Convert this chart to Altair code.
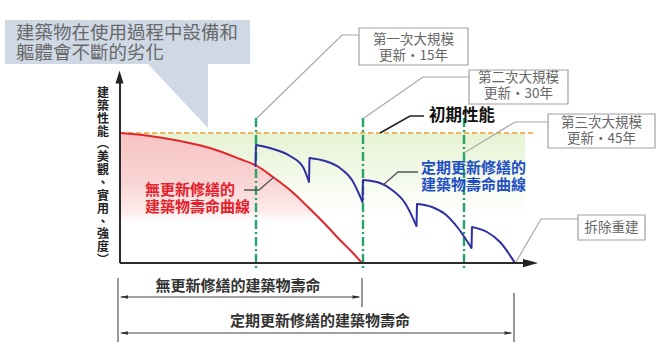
import altair as alt
import pandas as pd

W, H = 664, 355
FONT = "Noto Sans CJK TC"

# ---------------- data (diagram space: x right, y down) ----------------
red_x = [120, 150, 180, 210, 240, 257, 273, 290, 307, 325, 340, 352, 362]
red_y = [133, 136, 141, 148, 159, 166, 177, 190, 206, 224, 240, 252, 263]

# blue sawtooth curve: one list per decay arc (peak -> trough)
blue_arcs_x = [
    [256, 273, 290, 303, 309],
    [309.5, 325, 340, 352, 362.5],
    [363, 380, 392, 405, 416.5],
    [417, 432, 445, 458, 471.5],
    [472, 487, 500, 515],
]
blue_arcs_y = [
    [145, 149, 156, 167, 182],
    [158, 161, 168, 180, 202],
    [180, 183, 190, 203, 226],
    [204, 207, 214, 228, 248],
    [227, 232, 242, 263],
]
blue_start_y = 166  # where the first renewal lifts off the red curve

initial_level = 133
renewal_x = [256, 363, 464]  # 15, 30, 45 years
renewal_labels = [["第一次大規模", "更新・15年"], ["第二次大規模", "更新・30年"], ["第三次大規模", "更新・45年"]]

ylabel_chars = list("建築性能") + ["︵"] + list("美觀") + ["、"] + list("實用") + ["、"] + list("強度") + ["︶"]

callout_lines = ["建築物在使用過程中設備和", "軀體會不斷的劣化"]
red_label = ["無更新修繕的", "建築物壽命曲線"]
blue_label = ["定期更新修繕的", "建築物壽命曲線"]
span_labels = ["無更新修繕的建築物壽命", "定期更新修繕的建築物壽命"]

# ---------------- helpers ----------------
xs = alt.Scale(domain=[0, W], nice=False, zero=False)
ys = alt.Scale(domain=[H, 0], nice=False, zero=False)
X = alt.X("x:Q", scale=xs, axis=None)
Y = alt.Y("y:Q", scale=ys, axis=None)


def vgrad(stops):
    return alt.Gradient(gradient="linear", x1=0, x2=0, y1=0, y2=1,
                        stops=[alt.GradientStop(color=c, offset=o) for o, c in stops])


def rects(rows, **kw):
    df = pd.DataFrame(rows, columns=["x", "y", "x2", "y2"])
    return alt.Chart(df).mark_rect(**kw).encode(x=X, y=Y, x2="x2:Q", y2="y2:Q")


def polylines(lines, **kw):
    rows = []
    for i, pts in enumerate(lines):
        for j, (px, py) in enumerate(pts):
            rows.append({"id": i, "o": j, "x": px, "y": py})
    return alt.Chart(pd.DataFrame(rows)).mark_line(**kw).encode(
        x=X, y=Y, detail="id:N", order="o:Q")


def texts(rows, size, color, weight="normal", align="center"):
    df = pd.DataFrame(rows, columns=["x", "y", "t"])
    return alt.Chart(df).mark_text(font=FONT, fontSize=size, color=color, fontWeight=weight,
                                   align=align, baseline="middle").encode(x=X, y=Y, text="t:N")


def heads(rows, path, size, color="#222"):
    df = pd.DataFrame(rows, columns=["x", "y"])
    return alt.Chart(df).mark_point(shape=path, size=size, filled=True, color=color,
                                    opacity=1, strokeWidth=0).encode(x=X, y=Y)


# ---------------- layers ----------------
# callout bubble (top-left)
bubble_box = rects([(5, 20, 250, 64)], color="#cfd9e6")
bubble_tail = alt.Chart(pd.DataFrame({"x": [148, 208], "y": [64, 64], "y0": [64, 128]})).mark_area(
    color="#cfd9e6").encode(x=X, y=Y, y2="y0:Q")
bubble_text = texts([(16, 33, callout_lines[0]), (16, 53, callout_lines[1])], 18.5, "#686868", align="left")

# background fills
green_fill = rects([(120, initial_level, 525, 215)],
                   fill=vgrad([(0, "#e5f3d2"), (0.45, "#f1f8e6"), (1, "#ffffff")]))
red_df = pd.DataFrame({"x": red_x, "y": red_y, "y0": [263] * len(red_x)})
red_fill = alt.Chart(red_df).mark_area(
    interpolate="monotone", opacity=1,
    fill=vgrad([(0, "#f7c3c3"), (0.35, "#f9d2d2"), (0.6, "#fdeaea"), (0.68, "#ffffff"), (1, "#ffffff")])
).encode(x=X, y=Y, y2="y0:Q")

blue_rows = []
o = 0
blue_rows.append({"arc": 0, "o": o, "x": blue_arcs_x[0][0] - 0.5, "y": blue_start_y})
for a, (axs, ays) in enumerate(zip(blue_arcs_x, blue_arcs_y)):
    for px, py in zip(axs, ays):
        o += 1
        blue_rows.append({"arc": a, "o": o, "x": px, "y": py})
blue_df = pd.DataFrame(blue_rows)
blue_df["y0"] = 263
blue_fill = alt.Chart(blue_df).mark_area(
    interpolate="linear", opacity=1,
    fill=vgrad([(0, "#d6def5"), (0.6, "#e0e6f7"), (0.78, "#ebeefa"), (0.82, "#ffffff"), (1, "#ffffff")])
).encode(x=X, y=Y, y2="y0:Q", order="o:Q")

# initial performance dashed line
init_line = polylines([[(120, initial_level), (533, initial_level)]],
                      color="#f0a035", strokeWidth=1.6, strokeDash=[5, 3])

# renewal vertical dash-dot lines
green_lines = polylines([[(gx, 118), (gx, 270)] for gx in renewal_x],
                        color="#22a565", strokeWidth=2.4, strokeDash=[9, 3, 2, 3])

# curves
red_curve = alt.Chart(red_df).mark_line(color="#e3262b", strokeWidth=2, interpolate="monotone").encode(x=X, y=Y)
blue_arcs = alt.Chart(blue_df[blue_df["o"] > 0]).mark_line(
    color="#2f2fa3", strokeWidth=2, interpolate="monotone").encode(x=X, y=Y, detail="arc:N", order="o:Q")
# vertical renewal jumps: from each trough (or red curve) up to the next peak
jumps = [[(blue_arcs_x[0][0] - 0.5, blue_start_y), (blue_arcs_x[0][0], blue_arcs_y[0][0])]]
for a in range(len(blue_arcs_x) - 1):
    jumps.append([(blue_arcs_x[a][-1], blue_arcs_y[a][-1]), (blue_arcs_x[a + 1][0], blue_arcs_y[a + 1][0])])
blue_jumps = polylines(jumps, color="#2f2fa3", strokeWidth=2, strokeCap="round")

# axes
axes = polylines([[(120, 263), (120, 80)], [(120, 263), (526, 263)]], color="#2b2b2b", strokeWidth=2)
yhead = heads([(119.5, 77)], "M0,-1L0.62,1L-0.62,1Z", 169)
xhead = heads([(530.5, 263)], "M1,0L-1,-0.55L-1,0.55Z", 225)

# axis label (vertical, one character per line; y is the first line's centre)
ylabel = alt.Chart(pd.DataFrame({"x": [103], "y": [93]})).mark_text(
    text=ylabel_chars, lineHeight=12.85, font=FONT, fontSize=12, fontWeight="bold", color="#222",
    align="center", baseline="middle").encode(x=X, y=Y)

# callout boxes
boxes = rects([(359, 28, 468, 65), (469, 70, 568, 104), (548, 114, 655, 148), (578, 215, 645, 240)],
              fill="white", stroke="#a0a0a0", strokeWidth=1.2)
box_text = texts([
    (413.5, 40, renewal_labels[0][0]), (413.5, 56, renewal_labels[0][1]),
    (518.5, 78, renewal_labels[1][0]), (518.5, 94, renewal_labels[1][1]),
    (601.5, 123, renewal_labels[2][0]), (601.5, 139, renewal_labels[2][1]),
    (611.5, 227.5, "拆除重建"),
], 13.5, "#666666")

# leader lines
gray_leaders = polylines([
    [(257, 118), (342, 35), (359, 35)],
    [(364, 118), (423, 77), (469, 77)],
    [(464, 153), (515, 122), (548, 122)],
    [(516, 262), (541, 219), (578, 219)],
], color="#a8a8a8", strokeWidth=1.2)
label_leaders = polylines([
    [(244, 190), (259, 190), (274, 177)],
    [(383, 185), (398, 172), (418, 172)],
], color="#555555", strokeWidth=1.3)
init_leader = polylines([[(380, 133), (410, 116), (424, 116)]], color="#222", strokeWidth=1.6)
init_text = texts([(429, 116, "初期性能")], 16.5, "#111", weight="bold", align="left")

red_text = texts([(145, 190, red_label[0]), (145, 207, red_label[1])], 15, "#e5202a", weight="bold", align="left")
blue_text = texts([(421, 168, blue_label[0]), (421, 185, blue_label[1])], 15, "#1f4fc4", weight="bold", align="left")

# bottom span markers
span_lines = polylines([
    [(118, 278), (118, 342)], [(362, 278), (362, 307)], [(514, 293), (514, 342)],
    [(121, 297), (359, 297)], [(121, 333), (511, 333)],
], color="#444", strokeWidth=1.1)
span_heads_l = heads([(124, 297), (124, 333)], "M-1,0L1,-0.42L1,0.42Z", 64, "#333")
span_heads_r = heads([(356.5, 297), (508.5, 333)], "M1,0L-1,-0.42L-1,0.42Z", 64, "#333")
span_text = texts([(238, 286, span_labels[0]), (320, 321, span_labels[1])], 15, "#333", weight="bold")

chart = alt.layer(
    bubble_box, bubble_tail, bubble_text,
    green_fill, red_fill, blue_fill,
    init_line, green_lines, red_curve, blue_arcs, blue_jumps,
    axes, yhead, xhead, ylabel,
    gray_leaders, boxes, box_text,
    label_leaders, init_leader, init_text, red_text, blue_text,
    span_lines, span_heads_l, span_heads_r, span_text,
).properties(width=W, height=H, padding=0, autosize="none", background="white").configure_view(stroke=None)

chart.save("out.html", embed_options={"renderer": "svg", "actions": False})
